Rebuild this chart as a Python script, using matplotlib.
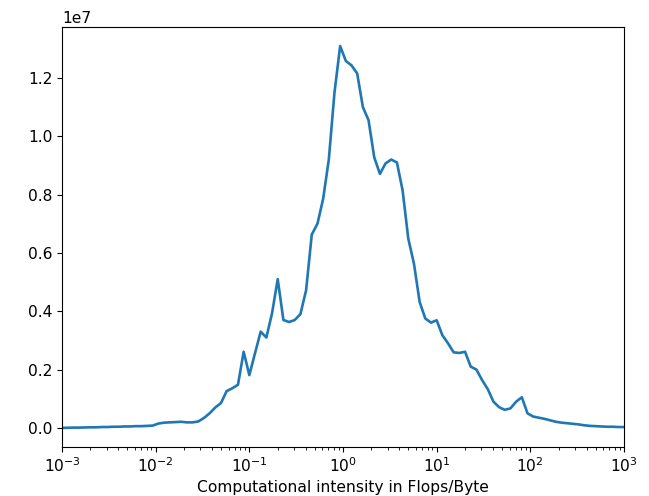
import matplotlib
matplotlib.use("Agg")
import matplotlib.pyplot as plt
import numpy as np

# Log-spaced bin positions (Flops/Byte)
intensity = np.logspace(-3, 3, 100)

# Counts, in units of 1e7
counts_e7 = [
    0.000, 0.0005, 0.001, 0.001, 0.0015, 0.002, 0.002, 0.003, 0.003, 0.004,
    0.004, 0.005, 0.005, 0.006, 0.006, 0.007, 0.008, 0.015, 0.018, 0.019,
    0.020, 0.021, 0.019, 0.019, 0.022, 0.034, 0.050, 0.070, 0.085, 0.126,
    0.136, 0.148, 0.261, 0.181, 0.256, 0.330, 0.310, 0.393, 0.510, 0.370,
    0.363, 0.370, 0.390, 0.472, 0.663, 0.700, 0.785, 0.920, 1.150, 1.309,
    1.258, 1.243, 1.215, 1.100, 1.055, 0.928, 0.871, 0.907, 0.920, 0.910,
    0.814, 0.649, 0.563, 0.432, 0.375, 0.361, 0.369, 0.318, 0.290, 0.259,
    0.257, 0.261, 0.210, 0.200, 0.164, 0.133, 0.090, 0.071, 0.062, 0.067,
    0.090, 0.105, 0.050, 0.039, 0.035, 0.031, 0.026, 0.021, 0.018, 0.016,
    0.014, 0.012, 0.009, 0.007, 0.006, 0.005, 0.004, 0.004, 0.003, 0.003,
]
counts = np.array(counts_e7) * 1e7

plt.rcParams['font.size'] = 11.2

fig = plt.figure(figsize=(6.49, 4.96), dpi=100)
ax = fig.add_axes([62 / 649, 1 - 447 / 496, (624 - 62) / 649, (447 - 27) / 496])

ax.plot(intensity, counts, color='#1f77b4', linewidth=1.9)
ax.set_xscale('log')
ax.set_xlim(1e-3, 1e3)
ax.set_xlabel('Computational intensity in Flops/Byte', labelpad=3)

fig.savefig('out.png', dpi=100)
